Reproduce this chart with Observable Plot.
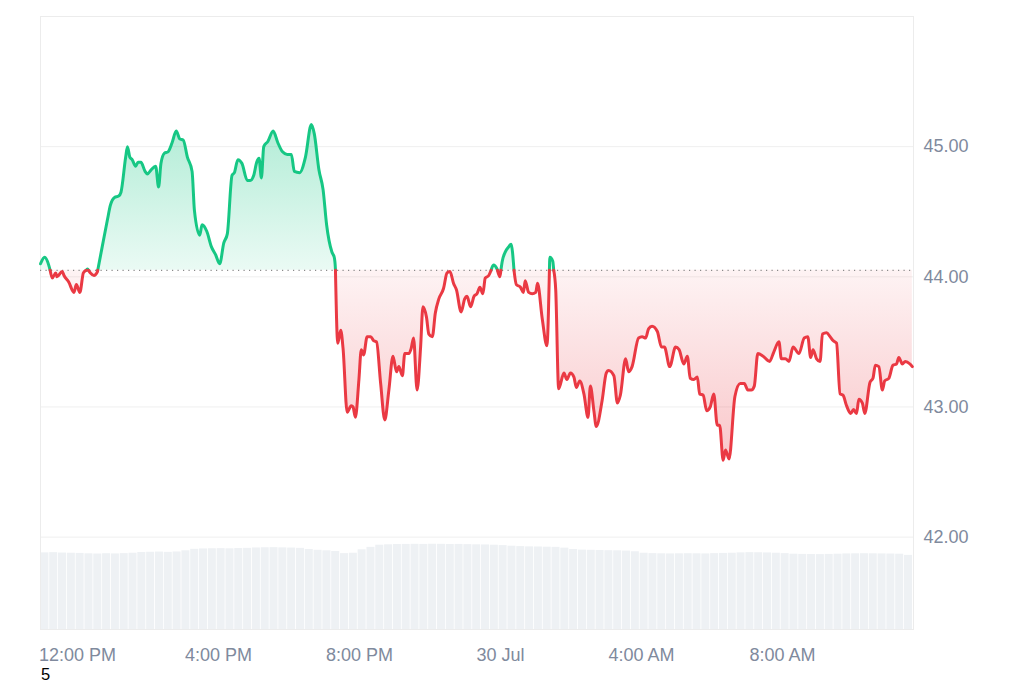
<!DOCTYPE html>
<html>
<head>
<meta charset="utf-8">
<script src="https://cdn.jsdelivr.net/npm/d3@7"></script>
<script src="https://cdn.jsdelivr.net/npm/@observablehq/plot@0.6"></script>
<style>
  html, body { margin: 0; padding: 0; background: #fff; }
  #wrap { position: relative; width: 1024px; height: 665px; }
  #wrap svg { position: absolute; left: 0; top: 0; }
  #cap { font-family: "Liberation Sans", Arial, sans-serif; font-size: 16.5px; line-height: 18px; height: 18px; color: #000; padding-left: 41px; }
</style>
</head>
<body>
<div id="wrap"></div>
<div id="cap">5</div>
<script>
// ---- Data ----
const baseline = 44.05; // previous close (dotted line)

const times = [
"29 10:57","29 11:04","29 11:11","29 11:17","29 11:23","29 11:25","29 11:34","29 11:37","29 11:45","29 11:54",
"29 11:58","29 12:04","29 12:10","29 12:17","29 12:22","29 12:28","29 12:34","29 12:42","29 12:51","29 12:56",
"29 13:03","29 13:10","29 13:14","29 13:22","29 13:25","29 13:29","29 13:33","29 13:39","29 13:43","29 13:48",
"29 13:55","29 13:59","29 14:05","29 14:13","29 14:18","29 14:22","29 14:28","29 14:34","29 14:41","29 14:48",
"29 14:54","29 15:00","29 15:07","29 15:15","29 15:19","29 15:28","29 15:32","29 15:40","29 15:48","29 15:55",
"29 16:02","29 16:09","29 16:15","29 16:23","29 16:27","29 16:33","29 16:40","29 16:49","29 16:54","29 17:00",
"29 17:05","29 17:09","29 17:13","29 17:17","29 17:24","29 17:33","29 17:41","29 17:49","29 17:57","29 18:04",
"29 18:09","29 18:18","29 18:28","29 18:38","29 18:43","29 18:51","29 18:58","29 19:04","29 19:13","29 19:17",
"29 19:19","29 19:23","29 19:28","29 19:32","29 19:39","29 19:46","29 19:49","29 19:53","29 19:59","29 20:03",
"29 20:07","29 20:13","29 20:19","29 20:24","29 20:29","29 20:36","29 20:43","29 20:50","29 20:57","29 21:03",
"29 21:07","29 21:13","29 21:17","29 21:24","29 21:28","29 21:32","29 21:38","29 21:44","29 21:48","29 21:54",
"29 21:58","29 22:04","29 22:09","29 22:15","29 22:23","29 22:29","29 22:34","29 22:40","29 22:45","29 22:53",
"29 22:59","29 23:03","29 23:09","29 23:15","29 23:20","29 23:25","29 23:30","29 23:34","29 23:40","29 23:48",
"29 23:54","29 23:59","30 00:03","30 00:08","30 00:14","30 00:18","30 00:23","30 00:27","30 00:34","30 00:39",
"30 00:42","30 00:48","30 00:54","30 01:00","30 01:03","30 01:11","30 01:19","30 01:24","30 01:29","30 01:34",
"30 01:39","30 01:48","30 01:53","30 01:59","30 02:05","30 02:09","30 02:15","30 02:22","30 02:29","30 02:33",
"30 02:39","30 02:43","30 02:53","30 03:00","30 03:04","30 03:13","30 03:19","30 03:24","30 03:33","30 03:38",
"30 03:44","30 03:55","30 04:01","30 04:07","30 04:12","30 04:18","30 04:27","30 04:34","30 04:39","30 04:48",
"30 04:58","30 05:04","30 05:12","30 05:18","30 05:23","30 05:29","30 05:35","30 05:39","30 05:45","30 05:51",
"30 05:57","30 06:03","30 06:09","30 06:13","30 06:19","30 06:23","30 06:29","30 06:39","30 06:48","30 06:55",
"30 07:01","30 07:07","30 07:12","30 07:18","30 07:27","30 07:38","30 07:45","30 07:54","30 07:58","30 08:05",
"30 08:11","30 08:18","30 08:28","30 08:37","30 08:43","30 08:48","30 08:52","30 08:58","30 09:04","30 09:08",
"30 09:15","30 09:21","30 09:26","30 09:32","30 09:38","30 09:43","30 09:49","30 09:56","30 10:01","30 10:06",
"30 10:10","30 10:16","30 10:20","30 10:29","30 10:34","30 10:38","30 10:44","30 10:50","30 10:54","30 11:01",
"30 11:08","30 11:14","30 11:18","30 11:24","30 11:29","30 11:37","30 11:41"
];

const prices = [
44.10,44.15,44.09,43.99,44.03,44.00,44.04,44.01,43.96,43.88,
43.94,43.88,44.03,44.06,44.03,44.01,44.04,44.23,44.44,44.55,
44.61,44.62,44.65,44.92,45.00,44.92,44.90,44.85,44.88,44.88,
44.81,44.79,44.82,44.85,44.69,44.87,44.95,44.96,45.03,45.12,
45.06,45.05,44.92,44.81,44.51,44.32,44.40,44.35,44.23,44.17,
44.10,44.26,44.33,44.78,44.80,44.90,44.87,44.74,44.74,44.78,
44.88,44.91,44.76,45.00,45.04,45.12,45.03,44.96,44.94,44.94,
44.81,44.80,44.92,45.17,45.10,44.82,44.67,44.40,44.19,44.15,
44.06,43.49,43.59,43.45,42.96,43.01,43.00,42.92,43.21,43.44,
43.40,43.54,43.54,43.51,43.50,43.18,42.90,43.13,43.39,43.27,
43.31,43.24,43.41,43.41,43.45,43.53,43.13,43.46,43.77,43.69,
43.56,43.54,43.72,43.83,43.91,44.03,44.04,43.95,43.90,43.73,
43.83,43.85,43.77,43.85,43.87,43.92,43.87,43.99,44.01,44.09,
44.06,44.00,44.12,44.19,44.23,44.25,44.05,43.94,43.92,43.88,
43.97,43.88,43.87,43.88,43.95,43.68,43.47,44.15,44.12,43.90,
43.14,43.26,43.21,43.26,43.23,43.15,43.20,43.10,42.92,43.16,
42.97,42.85,43.05,43.26,43.28,43.24,43.03,43.09,43.37,43.27,
43.31,43.53,43.54,43.53,43.60,43.62,43.58,43.46,43.46,43.31,
43.46,43.44,43.33,43.39,43.22,43.21,43.23,43.10,43.09,42.97,
43.00,43.10,42.86,42.86,42.59,42.67,42.60,43.08,43.18,43.18,
43.13,43.13,43.16,43.41,43.39,43.35,43.42,43.50,43.37,43.37,
43.35,43.46,43.41,43.53,43.54,43.38,43.44,43.37,43.35,43.56,
43.57,43.54,43.51,43.49,43.10,43.09,43.01,42.95,42.98,42.95,
43.06,43.03,42.95,43.19,43.22,43.32,43.31,43.13,43.20,43.22,
43.32,43.33,43.38,43.33,43.35,43.33,43.31
];

// volume bars: one per 15 minutes starting at the first bar time
const volStart = "29 10:57";
const volumes = [
7.84,7.86,7.82,7.80,7.78,
7.74,7.72,7.75,7.73,7.76,7.80,
7.88,7.90,7.92,7.89,7.93,8.05,
8.20,8.24,8.26,8.27,8.25,8.28,8.30,
8.34,8.36,8.37,8.35,8.33,8.30,
8.18,8.10,8.05,7.98,
7.76,7.80,
8.15,8.40,
8.62,8.66,8.69,8.70,8.71,8.70,8.72,8.71,8.69,8.70,8.68,8.66,8.65,8.62,8.58,
8.52,8.48,8.45,8.44,8.42,8.40,8.32,
8.18,8.12,8.10,8.08,8.06,8.05,8.02,7.95,
7.80,7.76,7.74,7.73,7.74,7.75,7.74,7.73,7.76,7.78,7.80,
7.84,7.86,7.85,7.83,7.80,7.76,
7.70,7.68,7.67,7.66,7.68,7.70,
7.73,7.74,7.75,7.74,7.73,7.72,7.70,7.58
];

const yTicks = [42, 43, 44, 45];
const xStart = "29 10:57", xEnd = "30 11:43";

// ---- Build ----
const parse = s => d3.timeParse("%Y-%m-%d %H:%M")("2024-07-" + s);
const pts = times.map((s, i) => ({t: parse(s), v: prices[i]}));

// split into above / below baseline segments, inserting crossing points
const segs = [];
let cur = [pts[0]], up = pts[0].v >= baseline;
for (let i = 1; i < pts.length; i++) {
  const p = pts[i], s = p.v >= baseline;
  if (s !== up) {
    const a = pts[i - 1];
    const f = (baseline - a.v) / (p.v - a.v);
    const c = {t: new Date(+a.t + f * (p.t - a.t)), v: baseline};
    cur.push(c);
    segs.push({up, pts: cur});
    cur = [c, p];
    up = s;
  } else cur.push(p);
}
segs.push({up, pts: cur});
const rows = segs.flatMap((s, k) => s.pts.map(p => ({t: p.t, v: p.v, seg: k, up: s.up})));
const upRows = rows.filter(d => d.up), dnRows = rows.filter(d => !d.up);

const t0 = parse(volStart);
const vol = volumes.map((v, i) => ({t1: d3.timeMinute.offset(t0, 15 * i), t2: d3.timeMinute.offset(t0, 15 * (i + 1)), v}));

const W = 1024, H = 665, mT = 16, mB = 36, mL = 40, mR = 111;
const xDomain = [parse(xStart), parse(xEnd)];
const font = {fontFamily: "'Liberation Sans', Arial, sans-serif", fontSize: "18px", color: "#808a9d", background: "transparent", overflow: "visible"};

const volPlot = Plot.plot({
  width: W, height: H, marginTop: mT, marginBottom: mB, marginLeft: mL, marginRight: mR,
  style: font,
  x: {type: "time", domain: xDomain, axis: null},
  y: {domain: [0, 9], range: [H - mB, H - mB - 88], axis: null},
  marks: [
    Plot.rectY(vol, {x1: "t1", x2: "t2", y: "v", fill: "#eef1f4", insetLeft: 0.4, insetRight: 0.4})
  ]
});

const fmtH = d3.timeFormat("%-I:%M %p"), fmtD = d3.timeFormat("%-d %b");
const xTicks = d3.timeHour.every(4).range(xDomain[0], xDomain[1]);
const curve = "monotone-x";

const main = Plot.plot({
  width: W, height: H, marginTop: mT, marginBottom: mB, marginLeft: mL, marginRight: mR,
  style: font,
  x: {type: "time", domain: xDomain},
  y: {domain: [41.29, 46.0]},
  marks: [
    Plot.ruleY(yTicks, {stroke: "#efefef", strokeWidth: 1}),
    Plot.frame({stroke: "#ececec"}),
    Plot.areaY(upRows, {x: "t", y1: d => baseline, y2: "v", z: "seg", fill: "url(#gUp)", curve}),
    Plot.areaY(dnRows, {x: "t", y1: d => baseline, y2: "v", z: "seg", fill: "url(#gDn)", curve}),
    Plot.ruleY([baseline], {stroke: "#8a8a8a", strokeWidth: 1.2, strokeDasharray: "1.2 4.3"}),
    Plot.line(upRows, {x: "t", y: "v", z: "seg", stroke: "#16c784", strokeWidth: 3, curve}),
    Plot.line(dnRows, {x: "t", y: "v", z: "seg", stroke: "#ea3943", strokeWidth: 3, curve}),
    Plot.axisY({anchor: "right", ticks: yTicks, tickFormat: d3.format(".2f"), tickSize: 0, tickPadding: 10, label: null}),
    Plot.axisX({ticks: xTicks, tickFormat: d => d.getHours() === 0 ? fmtD(d) : fmtH(d), tickSize: 0, tickPadding: 19, label: null})
  ]
});

// gradients
const ys = main.scale("y");
const ns = "http://www.w3.org/2000/svg";
const defs = document.createElementNS(ns, "defs");
function grad(id, yA, yB, cA, oA, cB, oB) {
  const g = document.createElementNS(ns, "linearGradient");
  g.setAttribute("id", id);
  g.setAttribute("gradientUnits", "userSpaceOnUse");
  g.setAttribute("x1", 0); g.setAttribute("x2", 0);
  g.setAttribute("y1", ys.apply(yA)); g.setAttribute("y2", ys.apply(yB));
  [[0, cA, oA], [1, cB, oB]].forEach(([o, c, op]) => {
    const s = document.createElementNS(ns, "stop");
    s.setAttribute("offset", o); s.setAttribute("stop-color", c); s.setAttribute("stop-opacity", op);
    g.appendChild(s);
  });
  defs.appendChild(g);
}
grad("gUp", 45.2, baseline, "#16c784", 0.34, "#16c784", 0.09);
grad("gDn", baseline, 42.6, "#ea3943", 0.06, "#ea3943", 0.28);
main.insertBefore(defs, main.firstChild);

const wrap = document.getElementById("wrap");
wrap.appendChild(volPlot);
wrap.appendChild(main);
</script>
</body>
</html>
